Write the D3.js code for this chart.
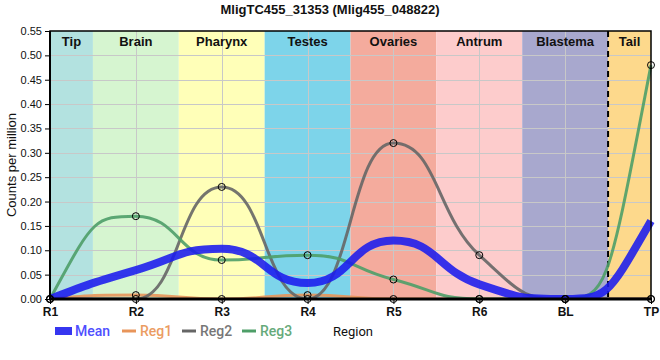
<!DOCTYPE html>
<html><head><meta charset="utf-8">
<script src="https://cdn.jsdelivr.net/npm/d3@7"></script>
<style>body{margin:0;background:#fff}svg{display:block;font-family:"Liberation Sans",Arial,sans-serif}</style>
</head><body><svg id="c" width="660" height="360"></svg>
<script>
const categories = ["R1","R2","R3","R4","R5","R6","BL","TP"];
const reg1 = [0, 0.008, 0, 0.008, 0, 0, 0, 0];
const reg2 = [0, 0, 0.23, 0, 0.32, 0.09, 0, 0];
const reg3 = [0, 0.17, 0.08, 0.09, 0.04, 0, 0, 0.48];
const meanVals = categories.map((c,i)=>(reg1[i]+reg2[i]+reg3[i])/3);
const regions = ["Tip","Brain","Pharynx","Testes","Ovaries","Antrum","Blastema","Tail"];
const regionColors = ["#b3e2e0","#d6f5d0","#ffffb8","#7dd4ea","#f4ab9d","#fdcccc","#a8a8ce","#fdd98c"];
const yTicks = [0,0.05,0.1,0.15,0.2,0.25,0.3,0.35,0.4,0.45,0.5,0.55];
const seriesNames = ["Mean","Reg1","Reg2","Reg3"];
const seriesColors = ["#1a1aee","#e8955a","#666666","#4e9e68"];
const legendText = ["#4f4fff","#eb9c62","#777777","#66aa7a"];

const svg = d3.select("#c");
const L=50,R=651,T=31,B=299;
const x = d3.scalePoint().domain(categories).range([L,R]);
const step = x.step();
const y = d3.scaleLinear().domain([0,0.55]).range([B,T]);

// smooth curve: monotone tangents, bezier handles at half-interval (flatter peaks)
function smoothPath(vals){
  const k=0.5;
  const p = vals.map((v,i)=>[x(categories[i]), y(v)]);
  const n = p.length, m = new Array(n).fill(0);
  const sl = i => (p[i+1][1]-p[i][1])/(p[i+1][0]-p[i][0]);
  for(let i=1;i<n-1;i++){
    const h0=p[i][0]-p[i-1][0], h1=p[i+1][0]-p[i][0];
    const s0=sl(i-1), s1=sl(i);
    const q=(s0*h1+s1*h0)/(h0+h1);
    m[i]=(Math.sign(s0)+Math.sign(s1))*Math.min(Math.abs(s0),Math.abs(s1),0.5*Math.abs(q))||0;
  }
  const endT=(s,mn)=>{
    let t=2*s-mn;
    if(Math.sign(t)!==Math.sign(s)) return 0;
    const lim=Math.abs(s)/k*0.95;
    return Math.sign(t)*Math.min(Math.abs(t),lim);
  };
  m[0]=endT(sl(0),m[1]); m[n-1]=endT(sl(n-2),m[n-2]);
  const path=d3.path(); path.moveTo(p[0][0],p[0][1]);
  for(let i=0;i<n-1;i++){
    const dx=p[i+1][0]-p[i][0];
    path.bezierCurveTo(p[i][0]+dx*k, p[i][1]+m[i]*dx*k, p[i+1][0]-dx*k, p[i+1][1]-m[i+1]*dx*k, p[i+1][0], p[i+1][1]);
  }
  return path.toString();
}

// bands
const bands = regions.map((r,i)=>{
  const c = x(categories[i]);
  const x0 = Math.max(L, c-step/2), x1 = Math.min(R, c+step/2);
  return {r, x0, x1, col: regionColors[i]};
});
svg.append("g").selectAll("rect").data(bands).join("rect")
  .attr("x",d=>d.x0).attr("y",T).attr("width",d=>d.x1-d.x0).attr("height",B-T).attr("fill",d=>d.col);

// grid
const grid = svg.append("g").attr("stroke","#c8c8c8").attr("stroke-width",1);
grid.selectAll(".h").data(yTicks.slice(1,-1)).join("line")
  .attr("x1",L).attr("x2",R).attr("y1",d=>Math.round(y(d))+0.5).attr("y2",d=>Math.round(y(d))+0.5);
grid.selectAll(".v").data(categories.slice(1,-1)).join("line")
  .attr("y1",T).attr("y2",B).attr("x1",d=>Math.round(x(d))+0.5).attr("x2",d=>Math.round(x(d))+0.5);

// region labels
svg.append("g").selectAll("text").data(bands).join("text")
  .attr("x",d=>(d.x0+d.x1)/2).attr("y",T+15).attr("text-anchor","middle")
  .attr("font-size",13).attr("font-weight","bold").attr("fill","#111").text(d=>d.r);

// dashed separator
const sepX = x("BL")+step/2;
svg.append("line").attr("x1",sepX).attr("x2",sepX).attr("y1",T).attr("y2",B)
  .attr("stroke","#000").attr("stroke-width",2).attr("stroke-dasharray","6,4");

// lines
svg.append("clipPath").attr("id","pc").append("rect").attr("x",L).attr("y",T-5).attr("width",R-L+6).attr("height",B-T+5);
const regs = [reg1,reg2,reg3];
const lines = svg.append("g").attr("clip-path","url(#pc)");
regs.forEach((s,k)=>{
  lines.append("path").attr("d",smoothPath(s)).attr("fill","none")
    .attr("stroke",seriesColors[k+1]).attr("stroke-width",3).attr("stroke-opacity",0.9);
});
lines.append("path").attr("d",smoothPath(meanVals)).attr("fill","none")
  .attr("stroke",seriesColors[0]).attr("stroke-width",8).attr("stroke-opacity",0.88);

// axes box
svg.append("rect").attr("x",L).attr("y",T).attr("width",R-L).attr("height",B-T)
  .attr("fill","none").attr("stroke","#000").attr("stroke-width",1.5);
svg.append("line").attr("x1",L).attr("x2",L).attr("y1",T).attr("y2",B+1).attr("stroke","#000").attr("stroke-width",2);
svg.append("line").attr("x1",L-1).attr("x2",R+1).attr("y1",B).attr("y2",B).attr("stroke","#000").attr("stroke-width",3);

// y axis
const ya = svg.append("g").attr("transform",`translate(${L},0)`)
  .call(d3.axisLeft(y).tickValues(yTicks).tickFormat(d3.format(".2f")).tickSize(5).tickPadding(3));
ya.select(".domain").remove();
ya.selectAll("line").attr("stroke","#000");
ya.selectAll("text").attr("font-size",11).attr("fill","#111").attr("font-family","Liberation Sans, Arial, sans-serif");

// x axis
const xa = svg.append("g").attr("transform",`translate(0,${B})`)
  .call(d3.axisBottom(x).tickSize(5).tickPadding(3));
xa.select(".domain").remove();
xa.selectAll("line").attr("stroke","#000").attr("stroke-width",1);
xa.selectAll("text").attr("font-size",12).attr("font-weight","bold").attr("fill","#111").attr("font-family","Liberation Sans, Arial, sans-serif");

// circles
regs.forEach((s,k)=>{
  svg.append("g").selectAll("circle").data(s).join("circle")
    .attr("cx",(d,i)=>x(categories[i])).attr("cy",d=>y(d)).attr("r",3.5)
    .attr("fill","none").attr("stroke","#000").attr("stroke-width",1);
});

// title
svg.append("text").attr("x",330).attr("y",14).attr("text-anchor","middle")
  .attr("font-size",13).attr("font-weight","bold").attr("fill","#111")
  .text("MligTC455_31353 (Mlig455_048822)");
// y title
svg.append("text").attr("transform",`translate(16,${(T+B)/2}) rotate(-90)`).attr("text-anchor","middle")
  .attr("font-size",13).attr("fill","#111").text("Counts per million");

// legend
const lg = svg.append("g").attr("font-family","Roboto, Liberation Sans, sans-serif").attr("font-size",14).attr("font-weight",500);
const lx = [55,122,182,242];
seriesNames.forEach((n,k)=>{
  if(k===0) lg.append("rect").attr("x",lx[k]).attr("y",327).attr("width",17).attr("height",8).attr("fill",seriesColors[0]).attr("fill-opacity",0.88);
  else lg.append("line").attr("x1",lx[k]).attr("x2",lx[k]+14).attr("y1",331).attr("y2",331).attr("stroke",seriesColors[k]).attr("stroke-width",3);
  lg.append("text").attr("x",lx[k]+(k===0?20:18)).attr("y",336).attr("fill",legendText[k]).text(n);
});
svg.append("text").attr("x",353).attr("y",336).attr("text-anchor","middle").attr("font-size",13)
  .attr("fill","#111").attr("font-family","Roboto, Liberation Sans, sans-serif").text("Region");
</script></body></html>
